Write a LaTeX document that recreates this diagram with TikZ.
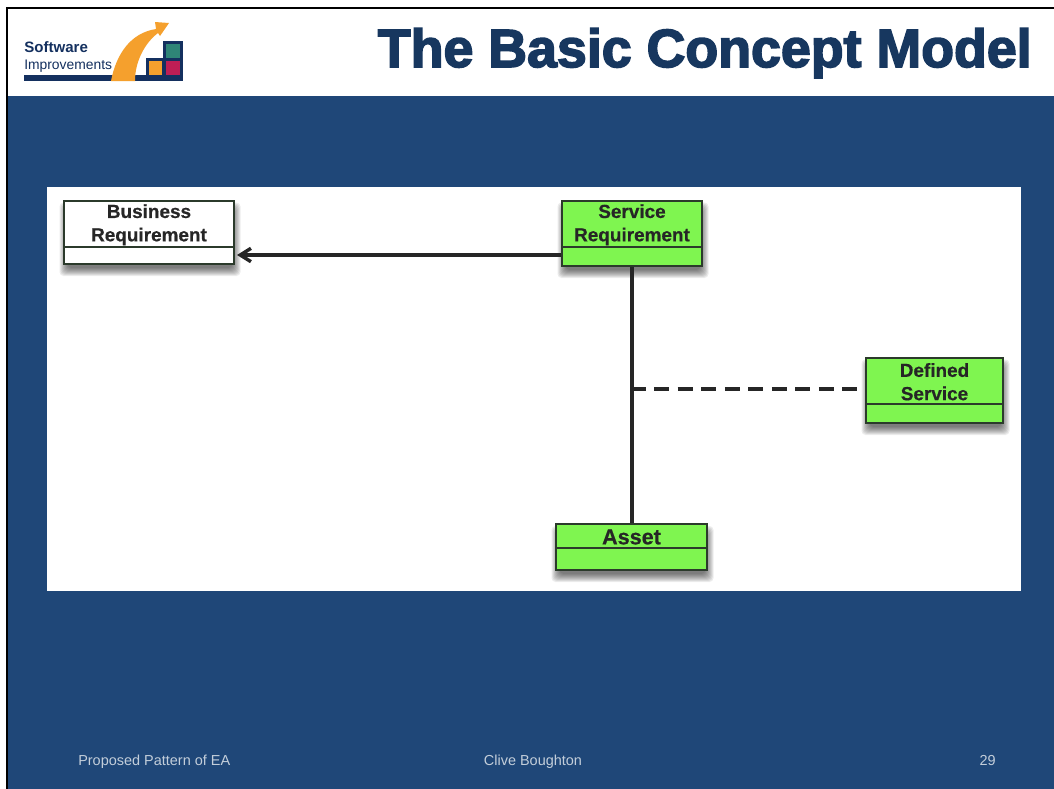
\documentclass[tikz,border=0pt]{standalone}
\usepackage{fontspec}
\usetikzlibrary{arrows.meta}
\setmainfont{Liberation Sans}
\newfontfamily\titlefont[FakeBold=3]{Liberation Sans Bold}
\newfontfamily\boxfont[FakeBold=0.5]{Liberation Sans Bold}
\definecolor{slideblue}{HTML}{1F4778}
\definecolor{titleblue}{HTML}{17375F}
\definecolor{boxgreen}{HTML}{7FF550}
\definecolor{edgegrey}{HTML}{2B3A2B}
\definecolor{footgrey}{HTML}{C3CEDA}
\definecolor{logonavy}{HTML}{14305F}
\definecolor{logoorange}{HTML}{F5A02D}
\definecolor{logoteal}{HTML}{2F8577}
\definecolor{logored}{HTML}{BE1E55}
\tikzset{
  umlbox/.style={draw=edgegrey,line width=1.5pt,inner sep=0pt,anchor=north west},
  greenbox/.style={umlbox,fill=boxgreen},
  whitebox/.style={umlbox,fill=white},
  link/.style={line width=2.6pt,draw=black!85},
  footer/.style={text=footgrey,font=\fontsize{10.85pt}{12pt}\selectfont,inner sep=0pt},
}
\newcommand{\softshadow}[4]{%
  \foreach \k in {0,1,...,8}{%
    \fill[black,opacity=0.075,rounded corners=3pt]
      ({#1-4.5+\k+1},{#2+3+\k}) rectangle ({#1+#3+4.5-\k+1},{#2+#4+11-\k});
  }}
% umlclass: name x y w h divider-height style font-size text
\newcommand{\umlclass}[9]{%
  \softshadow{#2}{#3}{#4}{#5}
  \node[#7,minimum width=#4*0.75pt-1.5pt,minimum height=#5*0.75pt-1.5pt] (#1) at (#2,#3) {};
  \draw[edgegrey,line width=1.5pt] (#2,#3+#6) -- (#2+#4,#3+#6);
  \node[font=\boxfont\fontsize{#8pt}{17.5pt}\selectfont,align=center,text=black!85,inner sep=0pt,
        anchor=center] (#1text) at (#2+#4/2,#3+#6/2+1.5) {#9};
}
\begin{document}
\begin{tikzpicture}[x=0.75pt,y=-0.75pt]
\useasboundingbox (0,0) rectangle (1054,789);
\fill[white] (0,0) rectangle (1054,789);
\fill[slideblue] (7,96) rectangle (1054,789);
\draw[black,line width=1.5pt] (6.5,789) -- (6.5,7.5) -- (1054,7.5);
% logo
\fill[logonavy] (24,75) rectangle (183,81);
\fill[logonavy] (146,58) rectangle (164,81);
\fill[logonavy] (163,41) rectangle (183,81);
\fill[logoorange] (149,61) rectangle (162,75);
\fill[logoteal] (166,44) rectangle (180,58);
\fill[logored] (166,61) rectangle (180,75);
\fill[logoorange] (111,81) .. controls (116,55) and (130,33) .. (156,29)
  -- (155,22) -- (169,23) -- (160,36) -- (158,33)
  .. controls (146,42) and (135,60) .. (135,81) -- cycle;
\node[anchor=base west,inner sep=0pt,text=logonavy,font=\bfseries\fontsize{11.3pt}{12pt}\selectfont] (logoa) at (24,52) {Software};
\node[anchor=base west,inner sep=0pt,text=logonavy,font=\fontsize{10.4pt}{12pt}\selectfont] (logob) at (24,69) {Improvements};
% title
\node[anchor=base east,inner sep=0pt,text=titleblue,font=\titlefont\fontsize{40.3pt}{42pt}\selectfont] (title) at (1032,67) {The Basic Concept Model};
% panel
\fill[white] (47,187) rectangle (1021,591);
% classes
\umlclass{biz}{63}{199.5}{172}{65.5}{47.5}{whitebox}{14.2}{Business\\Requirement}
\umlclass{srv}{561}{199.5}{142}{67.5}{47.5}{greenbox}{14.2}{Service\\Requirement}
\umlclass{def}{865}{356.5}{139}{67.5}{47.5}{greenbox}{14.2}{Defined\\Service}
\umlclass{ast}{555}{523}{153}{48}{25}{greenbox}{16.2}{Asset}
% connectors
\coordinate (arrowstart) at (561,255);
\coordinate (arrowend) at (237,255);
\coordinate (joint) at (632,389);
\coordinate (dashend) at (858,389);
\draw[link,-{Straight Barb[length=8pt,width=10pt,line width=2.6pt]}] (arrowstart) -- (arrowend);
\draw[link] (srv.south -| joint) -- (ast.north -| joint);
\draw[link,dash pattern=on 11.25pt off 6.4pt,dash phase=1pt] (joint) -- (dashend);
% footer
\node[footer,anchor=base west] (fa) at (78,765) {Proposed Pattern of EA};
\node[footer,anchor=base] (fb) at (533,765) {Clive Boughton};
\node[footer,anchor=base east] (fc) at (996,765) {29};
\end{tikzpicture}
\end{document}
